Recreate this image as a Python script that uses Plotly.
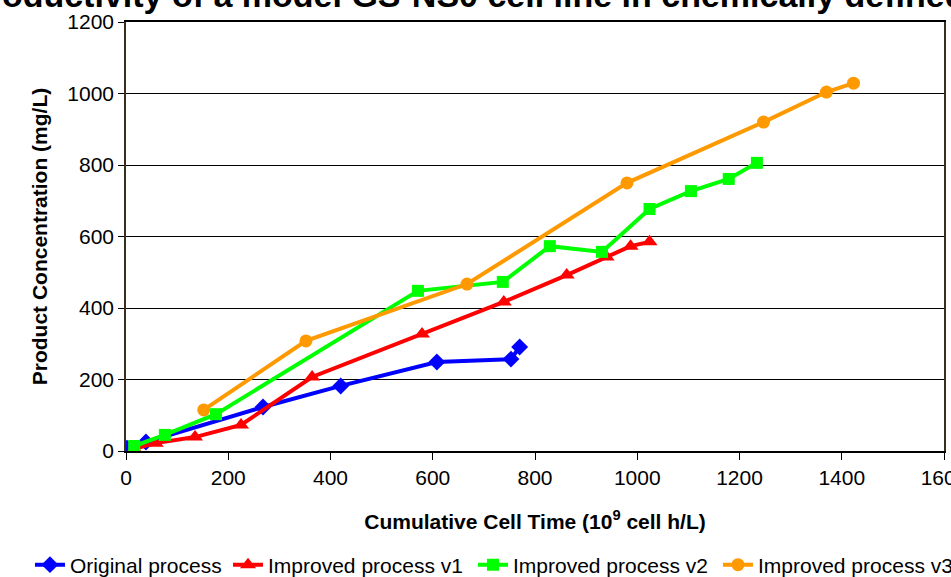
import plotly.graph_objects as go

orig_x = [2, 39, 268, 420, 608, 753, 770]
orig_y = [8, 25, 123, 182, 249, 257, 291]

v1_x = [16, 58, 135, 225, 364, 579, 739, 862, 940, 987, 1024]
v1_y = [6, 22, 39, 73, 207, 327, 417, 492, 543, 573, 585]

v2_x = [16, 76, 176, 571, 737, 829, 931, 1024, 1105, 1179, 1234]
v2_y = [14, 45, 103, 448, 473, 573, 557, 677, 727, 761, 806]

v3_x = [152, 352, 667, 980, 1247, 1370, 1423]
v3_y = [115, 308, 467, 750, 920, 1004, 1029]

names = ["Original process", "Improved process v1", "Improved process v2", "Improved process v3"]
colors = ["#0000FF", "#FF0000", "#00FF00", "#FF9900"]
symbols = ["diamond", "triangle-up", "square", "circle"]
sizes = [13, 14, 12, 13]
xs = [orig_x, v1_x, v2_x, v3_x]
ys = [orig_y, v1_y, v2_y, v3_y]
legend_ids = ["legend", "legend2", "legend3", "legend4"]
legend_x = [-0.1174, 0.1247, 0.4242, 0.7237]

FONT = "Liberation Sans, Arial, sans-serif"

fig = go.Figure()
for i in range(4):
    fig.add_trace(go.Scatter(
        x=xs[i], y=ys[i], mode="lines+markers", name=names[i],
        line=dict(color=colors[i], width=4),
        marker=dict(symbol=symbols[i], size=sizes[i], color=colors[i]),
        legend=legend_ids[i],
    ))

layout = dict(
    width=951, height=577,
    margin=dict(l=126, r=7, t=22, b=126, autoexpand=False),
    paper_bgcolor="white", plot_bgcolor="white",
    font=dict(family=FONT, color="black", size=21),
    xaxis=dict(
        range=[0, 1600], tickmode="array", tickvals=list(range(0, 1601, 200)),
        showgrid=False, showline=True, linecolor="black", linewidth=1.5, mirror=True,
        ticks="outside", ticklen=7, tickcolor="black",
        tickfont=dict(size=21, family=FONT), ticklabeloverflow="allow",
        title=dict(text="<b>Cumulative Cell Time (10<sup>9</sup> cell h/L)</b>",
                   font=dict(size=21, family=FONT), standoff=26),
        zeroline=False,
    ),
    yaxis=dict(
        range=[0, 1200], tickmode="array", tickvals=list(range(0, 1201, 200)),
        showgrid=True, gridcolor="black", gridwidth=1,
        showline=True, linecolor="#3a2e1f", linewidth=1.5, mirror=True,
        ticks="outside", ticklen=6, tickcolor="black",
        tickfont=dict(size=21, family=FONT),
        title=dict(text="<b>Product Concentration (mg/L)</b>",
                   font=dict(size=21, family=FONT), standoff=14),
        zeroline=False,
    ),
    showlegend=True,
)
for i, lid in enumerate(legend_ids):
    layout[lid] = dict(
        orientation="h", x=legend_x[i], xanchor="left", y=-0.2657, yanchor="middle",
        font=dict(size=21, family=FONT, color="black"), bgcolor="rgba(0,0,0,0)",
        borderwidth=0,
    )
fig.update_layout(**layout)

fig.add_annotation(
    text="<b>Productivity of a model GS-NS0 cell line in chemically defined medium</b>",
    xref="paper", yref="paper", x=0.5, y=1.062, xanchor="center", yanchor="middle",
    showarrow=False, font=dict(size=34, family=FONT, color="black"),
)

fig.write_html("out.html")
